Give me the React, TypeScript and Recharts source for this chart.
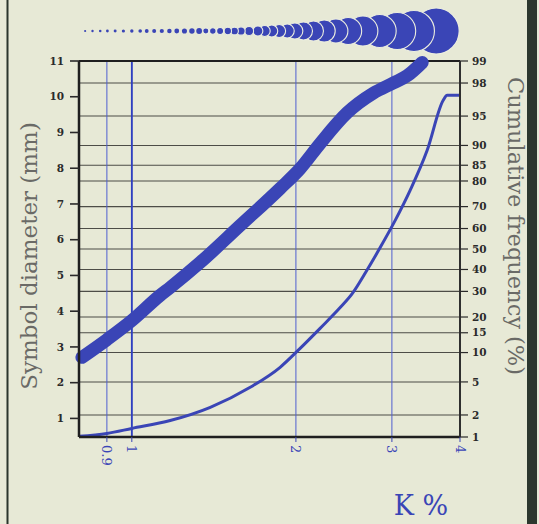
import { CartesianGrid, Line, LineChart, ReferenceLine, Scatter, ScatterChart, XAxis, YAxis } from 'recharts'

const kTicks = [0.9, 1, 2, 3, 4]
const diameterTicks = [1, 2, 3, 4, 5, 6, 7, 8, 9, 10, 11]
const freqTicks = [1, 2, 5, 10, 15, 20, 30, 40, 50, 60, 70, 80, 85, 90, 95, 98, 99]

// thick probability-plot band: K % vs cumulative frequency (%)
const bandK = [0.81, 0.9, 1.0, 1.127, 1.176, 1.335, 1.58, 1.871, 2.036, 2.215, 2.483, 2.772, 3.017, 3.201, 3.41]
const bandFreq = [9.0, 13.1, 18.8, 28.3, 31.7, 43.4, 61.4, 77.3, 84.0, 90.4, 95.4, 97.3, 98.0, 98.4, 98.95]

// thin curve: K % vs symbol diameter (mm)
const curveK = [0.8, 0.9, 1.0, 1.176, 1.393, 1.649, 1.871, 2.036, 2.215, 2.411, 2.537, 2.691, 2.855, 3.042, 3.24, 3.482, 3.726, 3.789, 4.0]
const curveDiameter = [0.5, 0.58, 0.72, 0.94, 1.31, 1.87, 2.43, 2.96, 3.52, 4.1, 4.49, 5.11, 5.78, 6.54, 7.38, 8.5, 9.9, 10.04, 10.04]

// symbol legend row above the frame: K % and symbol diameter (mm)
const symbolK = [
  0.821, 0.847, 0.875, 0.902, 0.932, 0.965, 1.0, 1.036, 1.065, 1.099, 1.135, 1.172, 1.209, 1.249, 1.289, 1.329,
  1.367, 1.408, 1.452, 1.5, 1.543, 1.586, 1.641, 1.703, 1.753, 1.806, 1.863, 1.928, 1.991, 2.065, 2.154, 2.254,
  2.368, 2.494, 2.654, 2.849, 3.068, 3.293, 3.617
]
const symbolDiameter = [
  0.52, 0.57, 0.62, 0.67, 0.71, 0.76, 0.81, 0.86, 0.9, 0.95, 1.0, 1.07, 1.14, 1.21, 1.29, 1.38, 1.45, 1.55, 1.67,
  1.76, 1.86, 1.98, 2.14, 2.38, 2.62, 2.86, 3.1, 3.33, 3.81, 4.29, 4.76, 5.24, 5.71, 6.43, 7.14, 7.86, 8.81, 9.76,
  10.95
]

const BLUE = '#3a45b6'
const SERIF = '"DejaVu Serif", "Liberation Serif", serif'
const PX_PER_MM = 4.2

// inverse normal CDF (Acklam)
function probit(p: number) {
  const a = [-39.69683028665376, 220.9460984245205, -275.9285104469687, 138.357751867269, -30.66479806614716, 2.506628277459239]
  const b = [-54.47609879822406, 161.5858368580409, -155.6989798598866, 66.80131188771972, -13.28068155288572]
  const c = [-0.007784894002430293, -0.3223964580411365, -2.400758277161838, -2.549732539343734, 4.374664141464968, 2.938163982698783]
  const d = [0.007784695709041462, 0.3224671290700398, 2.445134137142996, 3.754408661907416]
  const plow = 0.02425
  if (p < plow) {
    const q = Math.sqrt(-2 * Math.log(p))
    return (((((c[0] * q + c[1]) * q + c[2]) * q + c[3]) * q + c[4]) * q + c[5]) / ((((d[0] * q + d[1]) * q + d[2]) * q + d[3]) * q + 1)
  }
  if (p > 1 - plow) {
    const q = Math.sqrt(-2 * Math.log(1 - p))
    return -(((((c[0] * q + c[1]) * q + c[2]) * q + c[3]) * q + c[4]) * q + c[5]) / ((((d[0] * q + d[1]) * q + d[2]) * q + d[3]) * q + 1)
  }
  const q = p - 0.5
  const r = q * q
  return ((((((a[0] * r + a[1]) * r + a[2]) * r + a[3]) * r + a[4]) * r + a[5]) * q) / (((((b[0] * r + b[1]) * r + b[2]) * r + b[3]) * r + b[4]) * r + 1)
}

const freqZ = freqTicks.map((f) => probit(f / 100))
const bandRows = bandK.map((k, i) => ({ k, z: probit(bandFreq[i] / 100) }))
const curveRows = curveK.map((k, i) => ({ k, d: curveDiameter[i] }))
// biggest drawn first so each smaller symbol sits on top of the next one
const symbolRows = symbolK.map((k, i) => ({ k, size: symbolDiameter[i], row: 'symbols' })).reverse()

const freqLabel = (v: number) => {
  let best = 0
  freqZ.forEach((z, i) => {
    if (Math.abs(z - v) < Math.abs(freqZ[best] - v)) best = i
  })
  return String(freqTicks[best])
}

function KTick(props: any) {
  const { x, y, payload } = props
  return (
    <text
      x={x}
      y={y}
      transform={`rotate(90 ${x} ${y})`}
      dominantBaseline="central"
      textAnchor="start"
      fill={BLUE}
      fontSize={13}
      fontFamily={SERIF}
    >
      {payload.value}
    </text>
  )
}

function SymbolDot(props: any) {
  const { cx, cy, payload } = props
  const r = (payload.size * PX_PER_MM) / 2
  return <circle cx={cx} cy={cy} r={r} fill={BLUE} stroke="#eceedf" strokeWidth={r > 3 ? 1.1 : 0} />
}

const tickStyle = { fontSize: 10.5, fontFamily: SERIF, fill: '#2a2a2a', fontWeight: 600 }

export default function App() {
  return (
    <div style={{ position: 'absolute', left: 0, top: 0, width: 539, height: 524, background: '#e7e9d6', overflow: 'hidden' }}>
      <div style={{ position: 'absolute', left: 0, top: 0 }}>
        <ScatterChart width={539} height={62} margin={{ top: 0, right: 79, bottom: 0, left: 79 }}>
          <XAxis dataKey="k" type="number" scale="log" domain={[0.8, 4]} hide />
          <YAxis dataKey="row" type="category" allowDuplicatedCategory={false} hide />
          <Scatter data={symbolRows} shape={<SymbolDot />} isAnimationActive={false} />
        </ScatterChart>
      </div>
      <div style={{ position: 'absolute', left: 0, top: 0 }}>
        <LineChart width={539} height={524} margin={{ top: 61, right: 0, bottom: 0, left: 0 }}>
          <CartesianGrid yAxisId="right" vertical={false} stroke="#4d4d47" strokeWidth={1.1} />
          <CartesianGrid yAxisId="right" horizontal={false} stroke="#4f5fd0" strokeWidth={1} />
          <XAxis
            dataKey="k"
            type="number"
            scale="log"
            domain={[0.8, 4]}
            ticks={kTicks}
            interval={0}
            height={87}
            tickSize={5}
            tickMargin={3}
            tickLine={{ stroke: BLUE }}
            axisLine={{ stroke: '#1f1f1f', strokeWidth: 2.5 }}
            tick={<KTick />}
          />
          <YAxis
            yAxisId="left"
            orientation="left"
            type="number"
            width={79}
            domain={[0.48, 11]}
            ticks={diameterTicks}
            interval={0}
            tickSize={9}
            tickMargin={6}
            tickLine={{ stroke: '#2a2a2a', strokeWidth: 1.6 }}
            axisLine={{ stroke: '#1f1f1f', strokeWidth: 2.5 }}
            tick={tickStyle}
          />
          <YAxis
            yAxisId="right"
            orientation="right"
            type="number"
            width={79}
            domain={[freqZ[0], freqZ[freqZ.length - 1]]}
            ticks={freqZ}
            interval={0}
            tickFormatter={freqLabel}
            tickSize={8}
            tickMargin={4}
            tickLine={{ stroke: '#2a2a2a', strokeWidth: 1.2 }}
            axisLine={{ stroke: '#2f2f2f', strokeWidth: 2 }}
            tick={tickStyle}
          />
          <ReferenceLine yAxisId="right" x={1} stroke="#2f3fc0" strokeWidth={1.8} />
          <ReferenceLine yAxisId="right" y={freqZ[freqZ.length - 1]} stroke="#1f1f1f" strokeWidth={2} />
          <Line
            yAxisId="left"
            data={curveRows}
            dataKey="d"
            type="monotone"
            stroke={BLUE}
            strokeWidth={3}
            dot={false}
            isAnimationActive={false}
          />
          <Line
            yAxisId="right"
            data={bandRows}
            dataKey="z"
            type="monotone"
            stroke={BLUE}
            strokeWidth={13}
            strokeLinecap="round"
            strokeLinejoin="round"
            dot={false}
            isAnimationActive={false}
          />
        </LineChart>
      </div>
      <svg width={539} height={524} style={{ position: 'absolute', left: 0, top: 0, pointerEvents: 'none' }}>
        <rect x={6.5} y={0} width={2} height={524} fill="#2b352c" />
        <rect x={527} y={0} width={10} height={524} fill="#2c372e" />
        <text x={37} y={256} transform="rotate(-90 37 256)" textAnchor="middle" fontSize={23} fontFamily={SERIF} fill="#6a6a66">
          Symbol diameter (mm)
        </text>
        <text x={508} y={226} transform="rotate(90 508 226)" textAnchor="middle" fontSize={22.5} fontFamily={SERIF} fill="#6a6a66">
          Cumulative frequency (%)
        </text>
        <text x={421} y={515} textAnchor="middle" fontSize={27} fontFamily={SERIF} fill={BLUE}>
          K %
        </text>
      </svg>
    </div>
  )
}
